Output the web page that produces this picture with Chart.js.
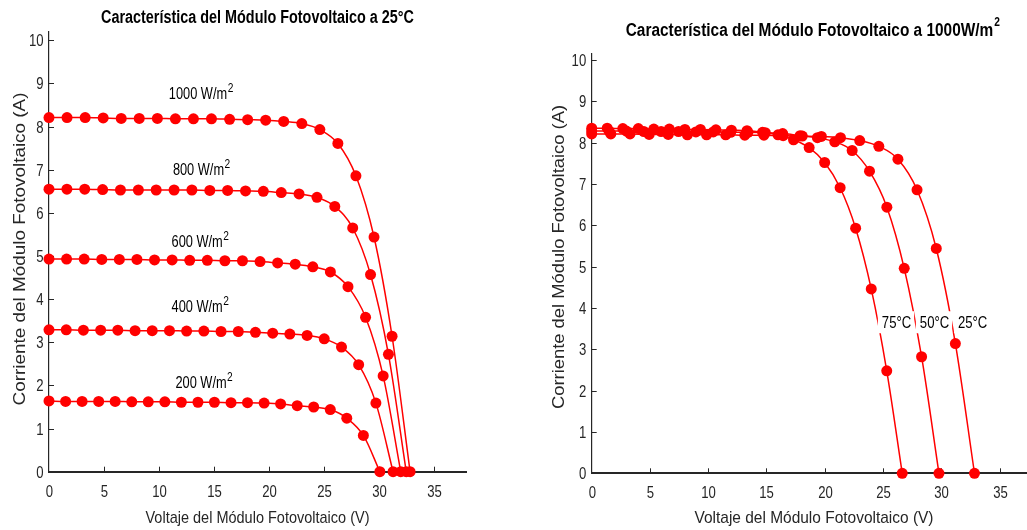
<!DOCTYPE html>
<html>
<head>
<meta charset="utf-8">
<script src="https://cdn.jsdelivr.net/npm/chart.js@4.4.1/dist/chart.umd.min.js"></script>
<style>
  html, body { margin: 0; padding: 0; background: #fff; overflow: hidden; width: 1027px; height: 530px; }
  #left { position: absolute; left: 0; top: 0; }
  #right { position: absolute; left: 540px; top: 0; }
</style>
</head>
<body>
<canvas id="left" width="500" height="530"></canvas>
<canvas id="right" width="500" height="530"></canvas>
<script>
// ---- left chart: 25°C, several irradiances (V, A) ----
const v200  = [0, 1.51, 3.01, 4.52, 6.02, 7.53, 9.03, 10.54, 12.04, 13.55, 15.05, 16.56, 18.06, 19.57, 21.07, 22.58, 24.08, 25.59, 27.09, 28.6, 30.1];
const i200  = [1.64, 1.63, 1.63, 1.63, 1.63, 1.62, 1.62, 1.62, 1.61, 1.61, 1.61, 1.60, 1.60, 1.59, 1.57, 1.53, 1.50, 1.44, 1.24, 0.84, 0];
const v400  = [0, 1.57, 3.13, 4.70, 6.26, 7.83, 9.39, 10.96, 12.52, 14.09, 15.65, 17.22, 18.78, 20.35, 21.91, 23.48, 25.04, 26.61, 28.17, 29.74, 31.3];
const i400  = [3.29, 3.29, 3.28, 3.28, 3.28, 3.27, 3.27, 3.27, 3.26, 3.26, 3.25, 3.25, 3.23, 3.21, 3.19, 3.16, 3.08, 2.89, 2.48, 1.59, 0];
const v600  = [0, 1.6, 3.2, 4.8, 6.4, 8.0, 9.6, 11.2, 12.8, 14.4, 16.0, 17.6, 19.2, 20.8, 22.4, 24.0, 25.6, 27.2, 28.8, 30.4, 32.0];
const i600  = [4.93, 4.93, 4.93, 4.92, 4.92, 4.92, 4.91, 4.91, 4.90, 4.90, 4.89, 4.89, 4.87, 4.84, 4.81, 4.75, 4.63, 4.29, 3.58, 2.22, 0];
const v800  = [0, 1.63, 3.25, 4.88, 6.5, 8.13, 9.75, 11.38, 13.0, 14.63, 16.25, 17.88, 19.5, 21.13, 22.75, 24.38, 26.0, 27.63, 29.25, 30.88, 32.5];
const i800  = [6.55, 6.55, 6.55, 6.54, 6.53, 6.53, 6.53, 6.53, 6.53, 6.52, 6.52, 6.51, 6.50, 6.47, 6.44, 6.36, 6.15, 5.65, 4.57, 2.72, 0];
const v1000 = [0, 1.64, 3.29, 4.93, 6.57, 8.21, 9.86, 11.5, 13.14, 14.78, 16.43, 18.07, 19.71, 21.35, 23.0, 24.64, 26.28, 27.92, 29.57, 31.21, 32.85];
const i1000 = [8.21, 8.21, 8.21, 8.20, 8.19, 8.19, 8.19, 8.18, 8.18, 8.18, 8.17, 8.16, 8.15, 8.12, 8.07, 7.93, 7.61, 6.86, 5.44, 3.14, 0];

// ---- right chart: 1000 W/m2, several temperatures ----
const v25 = [0, 1.64, 3.29, 4.93, 6.57, 8.21, 9.86, 11.5, 13.14, 14.78, 16.43, 18.07, 19.71, 21.35, 23.0, 24.64, 26.28, 27.92, 29.57, 31.21, 32.85];
const i25 = [8.21, 8.21, 8.21, 8.20, 8.20, 8.19, 8.19, 8.19, 8.18, 8.18, 8.17, 8.16, 8.15, 8.12, 8.05, 7.91, 7.60, 6.86, 5.44, 3.14, 0];
const v50 = [0, 1.49, 2.98, 4.47, 5.96, 7.45, 8.94, 10.43, 11.92, 13.41, 14.9, 16.39, 17.88, 19.37, 20.86, 22.35, 23.84, 25.33, 26.82, 28.31, 29.8];
const i50 = [8.28, 8.28, 8.28, 8.27, 8.27, 8.27, 8.26, 8.26, 8.25, 8.25, 8.24, 8.22, 8.17, 8.12, 8.02, 7.81, 7.31, 6.44, 4.96, 2.82, 0];
const v75 = [0, 1.33, 2.67, 4.0, 5.33, 6.66, 8.0, 9.33, 10.66, 11.99, 13.33, 14.66, 15.99, 17.32, 18.66, 19.99, 21.32, 22.65, 23.99, 25.32, 26.65];
const i75 = [8.35, 8.35, 8.34, 8.34, 8.33, 8.33, 8.32, 8.32, 8.31, 8.30, 8.29, 8.25, 8.19, 8.07, 7.88, 7.52, 6.91, 5.93, 4.46, 2.48, 0];

const xTicks = [0, 5, 10, 15, 20, 25, 30, 35];
const yTicks = [0, 1, 2, 3, 4, 5, 6, 7, 8, 9, 10];

// curve labels: text, x (V), y (A)
const leftLabels = [
  ['1000 W/m', 10.9, 8.64],
  ['800 W/m', 11.27, 6.87],
  ['600 W/m', 11.15, 5.21],
  ['400 W/m', 11.15, 3.71],
  ['200 W/m', 11.5, 1.94]
];
const rightLabels = [
  ['75°C', 24.9, 3.51],
  ['50°C', 28.16, 3.51],
  ['25°C', 31.43, 3.51]
];

const INK = '#262626';
const RED = '#ff0000';
const FONT = '"Liberation Sans", Arial, sans-serif';

function squeeze(ctx, text, x, y, font, sx, align) {
  ctx.save();
  ctx.font = font;
  const w = ctx.measureText(text).width * sx;
  let x0 = x;
  if (align === 'center') x0 = x - w / 2;
  else if (align === 'right') x0 = x - w;
  ctx.translate(x0, y);
  ctx.scale(sx, 1);
  ctx.textAlign = 'left';
  ctx.fillText(text, 0, 0);
  ctx.restore();
  return w;
}

function fitWidth(ctx, text, font, width) {
  ctx.save();
  ctx.font = font;
  const w = ctx.measureText(text).width;
  ctx.restore();
  return width / w;
}

const decor = {
  id: 'decor',
  beforeDatasetsDraw(chart, args, o) {
    const ctx = chart.ctx;
    const xs = chart.scales.x, ys = chart.scales.y;
    ctx.save();
    ctx.strokeStyle = INK;
    ctx.lineWidth = 1;
    ctx.fillStyle = INK;
    ctx.textBaseline = 'alphabetic';
    xs.ticks.forEach(t => {
      const px = Math.round(xs.getPixelForValue(t.value)) + 0.5;
      if (t.value > 0) {
        ctx.beginPath();
        ctx.moveTo(px, ys.bottom);
        ctx.lineTo(px, ys.bottom - 5);
        ctx.stroke();
      }
      squeeze(ctx, String(t.value), px, ys.bottom + 25, '16px ' + FONT, 0.82, 'center');
    });
    ys.ticks.forEach(t => {
      const py = Math.round(ys.getPixelForValue(t.value)) + 0.5;
      if (t.value > 0) {
        ctx.beginPath();
        ctx.moveTo(xs.left, py);
        ctx.lineTo(xs.left + 5, py);
        ctx.stroke();
      }
      squeeze(ctx, String(t.value), xs.left - 5.5, py + 5.7, '16px ' + FONT, 0.82, 'right');
    });
    ctx.restore();
  },
  afterDraw(chart, args, o) {
    const ctx = chart.ctx;
    const xs = chart.scales.x, ys = chart.scales.y;
    ctx.save();
    ctx.textBaseline = 'alphabetic';

    // title
    ctx.fillStyle = '#000';
    const tf = 'bold 18px ' + FONT;
    const tsx = fitWidth(ctx, o.title, tf, o.titleWidth);
    const tw = squeeze(ctx, o.title, o.titleX, o.titleY, tf, tsx, o.titleAlign);
    if (o.titleSup) {
      squeeze(ctx, '2', o.titleX + tw + 1, o.titleY - 10, 'bold 12px ' + FONT, 0.85, 'left');
    }

    // axis titles
    ctx.fillStyle = INK;
    const af = '17px ' + FONT;
    squeeze(ctx, o.xTitle, o.xTitleX, o.xTitleY, af, fitWidth(ctx, o.xTitle, af, o.xTitleWidth), 'center');
    ctx.save();
    ctx.translate(o.yTitleX, o.yTitleY);
    ctx.rotate(-Math.PI / 2);
    squeeze(ctx, o.yTitle, 0, 0, af, fitWidth(ctx, o.yTitle, af, o.yTitleWidth), 'center');
    ctx.restore();

    // curve labels
    ctx.fillStyle = '#000';
    o.labels.forEach(([text, vx, vy]) => {
      const px = xs.getPixelForValue(vx);
      const py = ys.getPixelForValue(vy);
      ctx.save();
      ctx.font = '16px ' + FONT;
      const w = ctx.measureText(text).width * o.labelScale;
      ctx.restore();
      if (o.labelBox) {
        ctx.fillStyle = '#fff';
        ctx.fillRect(px - 4, py - 17, w + 7, 22);
        ctx.fillStyle = '#000';
      }
      squeeze(ctx, text, px, py, '16px ' + FONT, o.labelScale, 'left');
      if (o.labelSup) {
        squeeze(ctx, '2', px + w + 0.5, py - 7, '12px ' + FONT, 0.85, 'left');
      }
    });
    ctx.restore();
  }
};

function series(v, c) {
  return {
    data: v.map((x, k) => ({ x: x, y: c[k] })),
    borderColor: RED,
    backgroundColor: RED,
    borderWidth: 1.5,
    pointRadius: 5.5,
    pointBorderWidth: 0,
    pointBackgroundColor: RED,
    cubicInterpolationMode: 'monotone',
    clip: false
  };
}

function makeChart(id, datasets, yMax, box, decorOpts) {
  return new Chart(document.getElementById(id).getContext('2d'), {
    type: 'line',
    data: { datasets: datasets },
    options: {
      responsive: false,
      animation: false,
      events: [],
      layout: { padding: { left: 0, top: box.top, right: box.right, bottom: 0 } },
      plugins: { legend: { display: false }, tooltip: { enabled: false }, title: { display: false }, decor: decorOpts },
      scales: {
        x: {
          type: 'linear', min: 0, max: 38,
          afterBuildTicks: axis => { axis.ticks = xTicks.map(v => ({ value: v })); },
          afterFit: s => { s.height = box.xh; },
          ticks: { display: false },
          grid: { display: false, drawTicks: false },
          border: { display: true, color: INK, width: 2 }
        },
        y: {
          type: 'linear', min: 0, max: yMax,
          afterBuildTicks: axis => { axis.ticks = yTicks.map(v => ({ value: v })); },
          afterFit: s => { s.width = box.yw; },
          ticks: { display: false },
          grid: { display: false, drawTicks: false },
          border: { display: true, color: INK, width: 1.2 }
        }
      }
    },
    plugins: [decor]
  });
}

makeChart('left',
  [series(v1000, i1000), series(v800, i800), series(v600, i600), series(v400, i400), series(v200, i200)],
  10.2,
  { top: 31.7, right: 33.3, xh: 58.3, yw: 49 },
  {
    title: 'Característica del Módulo Fotovoltaico a 25°C', titleX: 257.5, titleY: 23, titleWidth: 313, titleAlign: 'center', titleSup: false,
    xTitle: 'Voltaje del Módulo Fotovoltaico (V)', xTitleX: 257.5, xTitleY: 523, xTitleWidth: 224,
    yTitle: 'Corriente del Módulo Fotovoltaico (A)', yTitleX: 25, yTitleY: 249, yTitleWidth: 313,
    labels: leftLabels, labelScale: 0.8, labelSup: true, labelBox: false
  });

makeChart('right',
  [series(v25, i25), series(v50, i50), series(v75, i75)],
  10.145,
  { top: 54, right: 2.2, xh: 56.7, yw: 51.7 },
  {
    title: 'Característica del Módulo Fotovoltaico a 1000W/m', titleX: 85.7, titleY: 36.3, titleWidth: 367.6, titleAlign: 'left', titleSup: true,
    xTitle: 'Voltaje del Módulo Fotovoltaico (V)', xTitleX: 274, xTitleY: 523, xTitleWidth: 239,
    yTitle: 'Corriente del Módulo Fotovoltaico (A)', yTitleX: 24, yTitleY: 257, yTitleWidth: 304,
    labels: rightLabels, labelScale: 0.82, labelSup: false, labelBox: true
  });
</script>
</body>
</html>
